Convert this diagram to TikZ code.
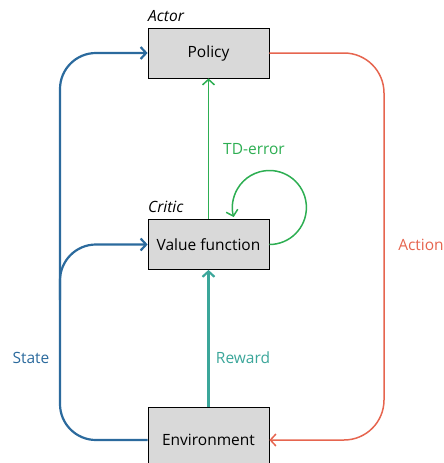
\documentclass[tikz,border=0pt]{standalone}
\usepackage{fontspec}
\setmainfont{Open Sans}
\usetikzlibrary{arrows.meta}

\definecolor{stateblue}{HTML}{2B6A9D}
\definecolor{tdgreen}{HTML}{2DAE52}
\definecolor{rewardteal}{HTML}{3BA69A}
\definecolor{actionred}{HTML}{E6654F}
\definecolor{boxgray}{HTML}{D9D9D9}

\begin{document}
\begin{tikzpicture}[x=1pt,y=-1pt,
    font=\fontsize{15.5}{18}\selectfont,
    block/.style={draw,thick,fill=boxgray,minimum width=121pt,minimum height=50pt,inner sep=0pt},
    tag/.style={font=\fontsize{15.5}{18}\selectfont\itshape,anchor=west,inner sep=0pt},
    link/.style={line width=1.5pt,-{Straight Barb[length=5.5pt,width=12pt]},rounded corners=36pt}]
  \useasboundingbox (0,0) rectangle (444,463);

  % boxes
  \node[block] (policy) at (208.5,53) {Policy};
  \node[block] (vf) at (208.5,244.5) {Value function};
  \node[block,minimum height=66pt] (env) at (208.5,440) {Environment};
  \node[tag] (actor) at (148,16) {Actor};
  \node[tag] (critic) at (148,207) {Critic};

  % state
  \coordinate (split) at (60,300);
  \draw[link,stateblue,line width=2.2pt] (env.west) -- (60,440) -- (60,53) -- (policy.west);
  \draw[link,stateblue,line width=2.2pt] (split) |- (vf.west);
  \node[stateblue] (state) at (31,358) {State};

  % action
  \draw[link,actionred,rounded corners=40pt] (policy.east) -- (384,53) -- (384,440) -- (env.east);
  \node[actionred] (action) at (421,245) {Action};

  % td error
  \draw[link,tdgreen,rounded corners=0pt] (vf.north) -- (policy.south);
  \draw[link,tdgreen] (vf.east) arc[start angle=-90,end angle=195,radius=37pt];
  \node[tdgreen] (tderr) at (254,149) {TD-error};

  % reward
  \draw[link,rewardteal,line width=2.2pt] (env.north) -- (vf.south);
  \node[rewardteal] (reward) at (243,358) {Reward};
\end{tikzpicture}
\end{document}
